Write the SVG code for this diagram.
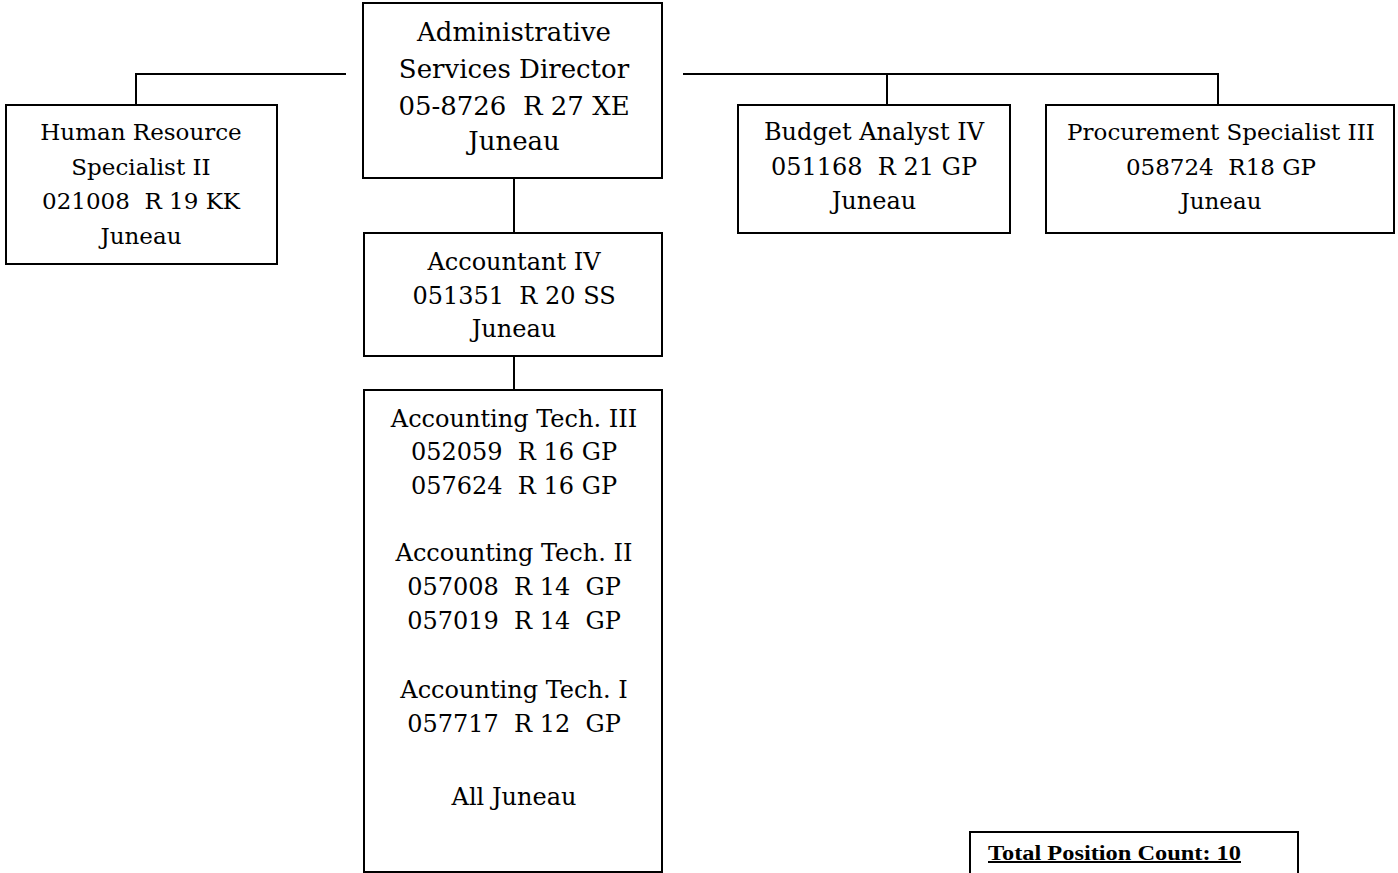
<svg xmlns="http://www.w3.org/2000/svg" width="1398" height="873" viewBox="0 0 1398 873">
<style>
.box{fill:#fff;stroke:#000;stroke-width:2}
.t{font-family:"DejaVu Serif","Liberation Serif",serif;font-size:24px;fill:#000;text-anchor:middle}
.s{font-size:23px}
.l{font-size:26px}
.c{fill:none;stroke:#000;stroke-width:2}
.tot{font-family:"Liberation Serif",serif;font-size:20px;font-weight:bold;fill:#000;text-decoration:underline}
</style>
<rect width="1398" height="873" fill="#fff"/>
<g id="connectors">
<polyline class="c" points="346,74 136,74 136,105"/>
<polyline class="c" points="683,74 1218,74 1218,105"/>
<line class="c" x1="887" y1="74" x2="887" y2="105"/>
<line class="c" x1="514" y1="178" x2="514" y2="233"/>
<line class="c" x1="514" y1="356" x2="514" y2="390"/>
</g>
<g id="director">
<rect class="box" x="363" y="3" width="299" height="175"/>
<text class="t l" x="514" y="41">Administrative</text>
<text class="t l" x="514" y="78">Services Director</text>
<text class="t l" x="514" y="115" xml:space="preserve">05-8726  R 27 XE</text>
<text class="t l" x="514" y="150">Juneau</text>
</g>
<g id="hr">
<rect class="box" x="6" y="105" width="271" height="159"/>
<text class="t s" x="141" y="140">Human Resource</text>
<text class="t s" x="141" y="175">Specialist II</text>
<text class="t s" x="141" y="209" xml:space="preserve">021008  R 19 KK</text>
<text class="t s" x="141" y="244">Juneau</text>
</g>
<g id="budget">
<rect class="box" x="738" y="105" width="272" height="128"/>
<text class="t" x="874" y="140">Budget Analyst IV</text>
<text class="t" x="874" y="175" xml:space="preserve">051168  R 21 GP</text>
<text class="t" x="874" y="209">Juneau</text>
</g>
<g id="procurement">
<rect class="box" x="1046" y="105" width="348" height="128"/>
<text class="t s" x="1221" y="140">Procurement Specialist III</text>
<text class="t s" x="1221" y="175" xml:space="preserve">058724  R18 GP</text>
<text class="t s" x="1221" y="209">Juneau</text>
</g>
<g id="accountant">
<rect class="box" x="364" y="233" width="298" height="123"/>
<text class="t" x="514" y="270">Accountant IV</text>
<text class="t" x="514" y="304" xml:space="preserve">051351  R 20 SS</text>
<text class="t" x="514" y="337">Juneau</text>
</g>
<g id="techs">
<rect class="box" x="364" y="390" width="298" height="482"/>
<text class="t" x="514" y="427">Accounting Tech. III</text>
<text class="t" x="514" y="460" xml:space="preserve">052059  R 16 GP</text>
<text class="t" x="514" y="494" xml:space="preserve">057624  R 16 GP</text>
<text class="t" x="514" y="561">Accounting Tech. II</text>
<text class="t" x="514" y="595" xml:space="preserve">057008  R 14  GP</text>
<text class="t" x="514" y="629" xml:space="preserve">057019  R 14  GP</text>
<text class="t" x="514" y="698">Accounting Tech. I</text>
<text class="t" x="514" y="732" xml:space="preserve">057717  R 12  GP</text>
<text class="t" x="514" y="805">All Juneau</text>
</g>
<g id="total">
<rect class="box" x="970" y="832" width="328" height="50"/>
<text class="tot" x="988" y="860" textLength="253" lengthAdjust="spacingAndGlyphs">Total Position Count: 10</text>
</g>
</svg>
